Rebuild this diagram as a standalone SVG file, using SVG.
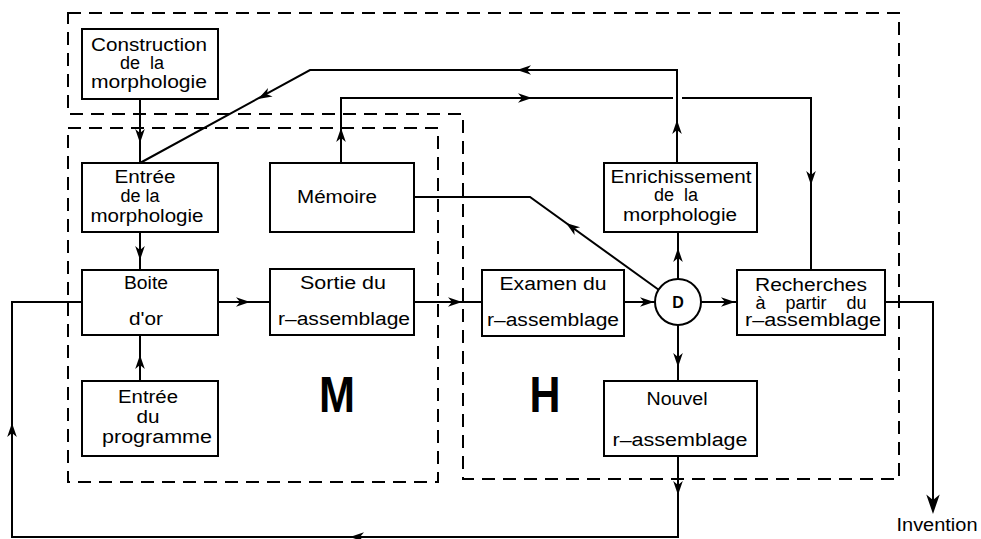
<svg xmlns="http://www.w3.org/2000/svg" xmlns:xlink="http://www.w3.org/1999/xlink" width="981" height="539" viewBox="0 0 981 539">
<style>
.bg{fill:#fff}
.box{fill:#fff;stroke:#000;stroke-width:2}
.dash{fill:none;stroke:#000;stroke-width:2;stroke-dasharray:13 8}
.ln{fill:none;stroke:#000;stroke-width:2}
.t{font-family:"Liberation Sans",Arial,Helvetica,sans-serif;font-size:18px;fill:#000;text-anchor:middle}
.pre{white-space:pre}
.big{font-family:"Liberation Sans",Arial,Helvetica,sans-serif;font-size:50px;font-weight:bold;fill:#000;text-anchor:middle}
.d{font-family:"Liberation Sans",Arial,Helvetica,sans-serif;font-size:16px;font-weight:bold;fill:#000;text-anchor:middle}
</style>
<defs>
<path id="ah" d="M0,0 L-14,-4.8 L-10,0 L-14,4.8 Z" fill="#000"/>
</defs>
<rect class="bg" x="0" y="0" width="981" height="539"/>

<g id="regions">
<path id="region-H" class="dash" d="M68,13 H899 V479 H463 V114 H68 Z"/>
<rect id="region-M" class="dash" x="68" y="128" width="370" height="354"/>
<text class="big" x="337" y="412" textLength="36" lengthAdjust="spacingAndGlyphs">M</text>
<text class="big" x="545" y="412" textLength="31" lengthAdjust="spacingAndGlyphs">H</text>
</g>

<g id="connectors">
<path class="ln" d="M140,99 V163"/>
<path class="ln" d="M677,163 V70 H310 L140,163"/>
<path class="ln" d="M341,163 V98 H673 M682,98 H811 V270"/>
<path class="ln" d="M414,197 H530 L659,290"/>
<path class="ln" d="M218,302 H270"/>
<path class="ln" d="M414,302 H482"/>
<path class="ln" d="M624,302 H655"/>
<path class="ln" d="M678,279 V232"/>
<path class="ln" d="M701,302 H737"/>
<path class="ln" d="M678,325 V382"/>
<path class="ln" d="M140,232 V270"/>
<path class="ln" d="M140,381 V335"/>
<path class="ln" d="M678,456 V537 H12 V302 H82"/>
<path class="ln" d="M885,302 H933 V505" stroke-width="2.6"/>

<use xlink:href="#ah" transform="translate(140,143) rotate(90)"/>
<use xlink:href="#ah" transform="translate(258,99) rotate(151.6)"/>
<use xlink:href="#ah" transform="translate(517,70) rotate(180)"/>
<use xlink:href="#ah" transform="translate(677,120) rotate(-90)"/>
<use xlink:href="#ah" transform="translate(341,128) rotate(-90)"/>
<use xlink:href="#ah" transform="translate(532,98)"/>
<use xlink:href="#ah" transform="translate(811,185) rotate(90)"/>
<use xlink:href="#ah" transform="translate(566,223) rotate(215.6)"/>
<use xlink:href="#ah" transform="translate(250,302)"/>
<use xlink:href="#ah" transform="translate(462,302)"/>
<use xlink:href="#ah" transform="translate(654,302)"/>
<use xlink:href="#ah" transform="translate(735,302)"/>
<use xlink:href="#ah" transform="translate(678,248) rotate(-90)"/>
<use xlink:href="#ah" transform="translate(678,367) rotate(90)"/>
<use xlink:href="#ah" transform="translate(140,260) rotate(90)"/>
<use xlink:href="#ah" transform="translate(140,355) rotate(-90)"/>
<use xlink:href="#ah" transform="translate(678,495) rotate(90)"/>
<use xlink:href="#ah" transform="translate(12,423) rotate(-90)"/>
<use xlink:href="#ah" transform="translate(350,537) rotate(180)"/>
<use xlink:href="#ah" transform="translate(933,514) rotate(90) scale(1.4)"/>
</g>

<g id="construction">
<rect class="box" x="82" y="29" width="136" height="70"/>
<text class="t" x="149" y="51" textLength="116" lengthAdjust="spacingAndGlyphs">Construction</text>
<text class="t pre" x="142" y="69">de  la</text>
<text class="t" x="149" y="88" textLength="116" lengthAdjust="spacingAndGlyphs">morphologie</text>
</g>

<g id="entree-morphologie">
<rect class="box" x="82" y="163" width="136" height="69"/>
<text class="t" x="145" y="183" textLength="61" lengthAdjust="spacingAndGlyphs">Entrée</text>
<text class="t" x="140" y="202">de la</text>
<text class="t" x="147" y="222" textLength="113" lengthAdjust="spacingAndGlyphs">morphologie</text>
</g>

<g id="memoire">
<rect class="box" x="270" y="163" width="144" height="69"/>
<text class="t" x="337" y="203" textLength="80" lengthAdjust="spacingAndGlyphs">Mémoire</text>
</g>

<g id="boite-dor">
<rect class="box" x="82" y="270" width="136" height="65"/>
<text class="t" x="146" y="289" textLength="44" lengthAdjust="spacingAndGlyphs">Boite</text>
<text class="t" x="146" y="325" textLength="34" lengthAdjust="spacingAndGlyphs">d'or</text>
</g>

<g id="sortie">
<rect class="box" x="270" y="269" width="144" height="66"/>
<text class="t" x="343" y="289" textLength="86" lengthAdjust="spacingAndGlyphs">Sortie du</text>
<text class="t" x="344" y="325" textLength="132" lengthAdjust="spacingAndGlyphs">r–assemblage</text>
</g>

<g id="entree-programme">
<rect class="box" x="82" y="381" width="136" height="75"/>
<text class="t" x="148" y="403" textLength="60" lengthAdjust="spacingAndGlyphs">Entrée</text>
<text class="t" x="148" y="423" textLength="23" lengthAdjust="spacingAndGlyphs">du</text>
<text class="t" x="157" y="443" textLength="110" lengthAdjust="spacingAndGlyphs">programme</text>
</g>

<g id="examen">
<rect class="box" x="482" y="270" width="142" height="66"/>
<text class="t" x="553" y="290" textLength="107" lengthAdjust="spacingAndGlyphs">Examen du</text>
<text class="t" x="553" y="326" textLength="132" lengthAdjust="spacingAndGlyphs">r–assemblage</text>
</g>

<g id="D">
<circle class="box" cx="678" cy="302" r="23"/>
<text class="d" x="678" y="308">D</text>
</g>

<g id="enrichissement">
<rect class="box" x="604" y="163" width="153" height="69"/>
<text class="t" x="681" y="183" textLength="141" lengthAdjust="spacingAndGlyphs">Enrichissement</text>
<text class="t pre" x="676" y="201">de  la</text>
<text class="t" x="680" y="221" textLength="114" lengthAdjust="spacingAndGlyphs">morphologie</text>
</g>

<g id="recherches">
<rect class="box" x="737" y="270" width="148" height="65"/>
<text class="t" x="811" y="291" textLength="112" lengthAdjust="spacingAndGlyphs">Recherches</text>
<text class="t pre" x="811" y="309">à    partir    du</text>
<text class="t" x="813" y="326" textLength="136" lengthAdjust="spacingAndGlyphs">r–assemblage</text>
</g>

<g id="nouvel">
<rect class="box" x="604" y="381" width="153" height="75"/>
<text class="t" x="677" y="405" textLength="61" lengthAdjust="spacingAndGlyphs">Nouvel</text>
<text class="t" x="680" y="446" textLength="135" lengthAdjust="spacingAndGlyphs">r–assemblage</text>
</g>

<g id="invention">
<text class="t" x="937" y="531" textLength="81" lengthAdjust="spacingAndGlyphs">Invention</text>
</g>
</svg>
